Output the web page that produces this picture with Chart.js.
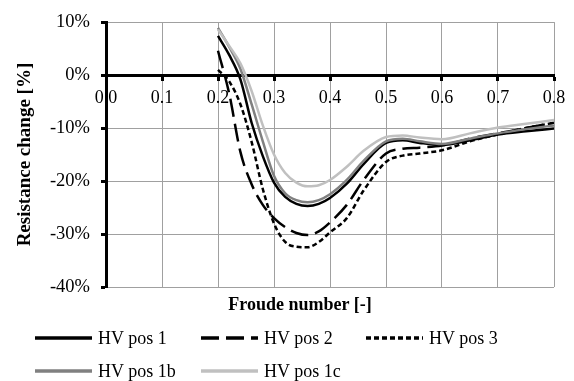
<!DOCTYPE html>
<html>
<head>
<meta charset="utf-8">
<script src="https://cdn.jsdelivr.net/npm/chart.js@4.4.1/dist/chart.umd.min.js"></script>
<style>
  html, body { margin: 0; padding: 0; background: #fff; }
  #wrap { position: relative; width: 574px; height: 381px; font-family: 'Liberation Serif', 'Times New Roman', serif; color: #000; }
  #xTitle { position: absolute; left: 0; width: 600px; top: 294px; text-align: center; font-weight: bold; font-size: 18px; }
  .leg { position: absolute; height: 21px; display: flex; align-items: center; font-size: 18px; white-space: nowrap; }
  .leg svg { margin-right: 6px; }
</style>
</head>
<body>
<div id="wrap">
  <canvas id="myChart" width="574" height="381"></canvas>
  <div id="xTitle">Froude number [-]</div>
  <div id="legend"></div>
</div>
<script>
const froude = [0.20, 0.22, 0.24, 0.26, 0.28, 0.30, 0.32, 0.34, 0.36, 0.38, 0.40,
                0.43, 0.46, 0.50, 0.53, 0.56, 0.60, 0.65, 0.70, 0.75, 0.80];

// resistance change in %
const pos1  = [7.4, 3.8, -0.8, -9.0, -15.3, -20.3, -23.0, -24.3, -24.7, -24.3, -23.2,
               -20.5, -16.8, -12.8, -12.3, -12.8, -13.2, -12.3, -11.2, -10.6, -10.1];
const pos2  = [4.6, -3.5, -14.5, -20.6, -24.5, -27.0, -28.7, -29.8, -30.2, -29.5, -27.8,
               -24.5, -19.8, -14.8, -13.9, -13.7, -13.3, -12.0, -11.0, -10.0, -9.0];
const pos3  = [1.0, -1.2, -5.5, -12.6, -21.5, -28.0, -31.5, -32.4, -32.5, -31.5, -29.7,
               -27.0, -21.8, -16.4, -15.2, -14.8, -14.2, -12.5, -11.2, -10.0, -9.0];
const pos1b = [8.9, 5.3, 1.2, -5.5, -12.5, -19.0, -22.3, -23.6, -24.0, -23.6, -22.5,
               -19.8, -16.2, -12.5, -12.0, -12.5, -13.0, -12.0, -11.0, -10.2, -9.5];
const pos1c = [8.6, 5.5, 2.2, -3.0, -9.5, -15.0, -18.5, -20.3, -21.0, -20.8, -19.8,
               -17.3, -14.3, -11.7, -11.4, -11.8, -12.1, -11.0, -9.9, -9.2, -8.5];

const xTickLabels = ['0.0', '0.1', '0.2', '0.3', '0.4', '0.5', '0.6', '0.7', '0.8'];

const serif = "'Liberation Serif', 'Times New Roman', serif";

function pts(vals) {
  return froude.map((x, i) => ({ x: x, y: vals[i] }));
}

const datasets = [
  { label: 'HV pos 1',  data: pts(pos1),  borderColor: '#000000', borderWidth: 2.5, order: 5 },
  { label: 'HV pos 2',  data: pts(pos2),  borderColor: '#000000', borderWidth: 2.5, borderDash: [18, 7], order: 4 },
  { label: 'HV pos 3',  data: pts(pos3),  borderColor: '#000000', borderWidth: 2.5, borderDash: [5, 3], order: 3 },
  { label: 'HV pos 1b', data: pts(pos1b), borderColor: '#808080', borderWidth: 2.5, order: 2 },
  { label: 'HV pos 1c', data: pts(pos1c), borderColor: '#c0c0c0', borderWidth: 2.5, order: 1 }
];

const ctx = document.getElementById('myChart').getContext('2d');
const myChart = new Chart(ctx, {
  type: 'line',
  data: { datasets: datasets },
  options: {
    responsive: false,
    animation: false,
    layout: { padding: { top: 19, right: 20, bottom: 94, left: 0 } },
    elements: {
      point: { radius: 0 },
      line: { cubicInterpolationMode: 'monotone', fill: false }
    },
    plugins: { legend: { display: false }, tooltip: { enabled: false } },
    scales: {
      x: {
        type: 'linear',
        position: { y: 0 },
        min: 0,
        max: 0.8,
        ticks: {
          stepSize: 0.1,
          autoSkip: false,
          maxRotation: 0,
          padding: 8,
          color: '#000',
          font: { family: serif, size: 18 },
          callback: (v, i) => xTickLabels[i] !== undefined ? xTickLabels[i] : v.toFixed(1)
        },
        grid: { color: '#a0a0a0', lineWidth: 1, tickColor: '#000', tickWidth: 3, tickLength: 4 },
        border: { color: '#000', width: 3 }
      },
      y: {
        min: -40,
        max: 10,
        ticks: {
          stepSize: 10,
          padding: 11,
          color: '#000',
          font: { family: serif, size: 18.5 },
          callback: v => v + '%'
        },
        grid: { color: '#a0a0a0', lineWidth: 1, tickColor: '#000', tickWidth: 3, tickLength: 5 },
        border: { color: '#000', width: 3 },
        title: {
          display: true,
          text: 'Resistance change [%]',
          color: '#000',
          font: { family: serif, size: 19, weight: 'bold' },
          padding: { top: 14, bottom: 0 }
        },
        afterFit(scale) { scale.width = 106; }
      }
    }
  }
});

// legend laid out in columns like the original
const legCols = [35, 201, 366];
const legRows = [338, 371];
const legend = document.getElementById('legend');
datasets.forEach((ds, i) => {
  const div = document.createElement('div');
  div.className = 'leg';
  div.style.left = legCols[i % 3] + 'px';
  div.style.top = (legRows[Math.floor(i / 3)] - 10.5) + 'px';
  const dash = ds.borderDash ? ds.borderDash.join(',') : 'none';
  div.innerHTML = '<svg width="57" height="6"><line x1="0" y1="3" x2="57" y2="3" stroke="' + ds.borderColor +
    '" stroke-width="3.5" stroke-dasharray="' + dash + '"/></svg><span>' + ds.label + '</span>';
  legend.appendChild(div);
});
</script>
</body>
</html>
